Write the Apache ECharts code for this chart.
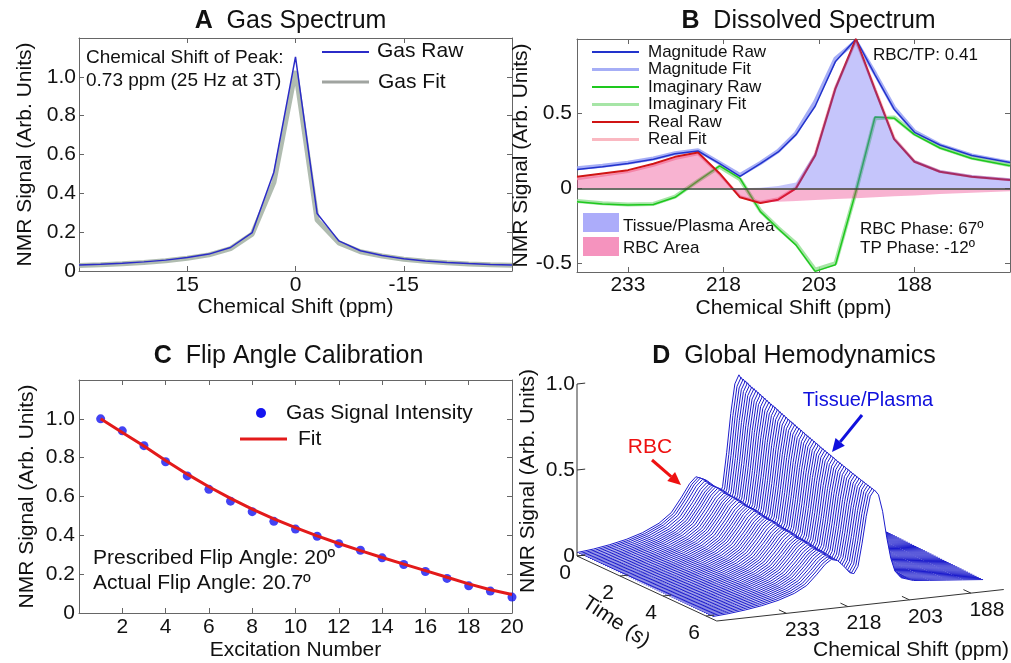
<!DOCTYPE html>
<html>
<head>
<meta charset="utf-8">
<script src="https://cdn.jsdelivr.net/npm/echarts@6.0.0/dist/echarts.min.js"></script>
<style>
  html, body { margin: 0; padding: 0; background: #fff; }
  #main { width: 1011px; height: 663px; }
</style>
</head>
<body>
<div id="main"></div>
<script>
// ---- A: gas spectrum
const gasPpm = [30, 27, 24, 21, 18, 15, 12, 9, 6, 3, 0, -3, -6, -9, -12, -15, -18, -21, -24, -27, -30]
const gasRaw = [0.031, 0.035, 0.04, 0.047, 0.056, 0.07, 0.087, 0.121, 0.198, 0.509, 1.103, 0.296, 0.155, 0.104, 0.08, 0.063, 0.052, 0.044, 0.038, 0.034, 0.031]
const gasFit = [0.028, 0.032, 0.037, 0.044, 0.053, 0.066, 0.083, 0.115, 0.19, 0.455, 1.03, 0.262, 0.145, 0.099, 0.077, 0.061, 0.05, 0.042, 0.036, 0.032, 0.029]
const gasShiftTicks = [15, 0, -15]
const signalTicks = [0, 0.2, 0.4, 0.6, 0.8, 1.0]

// ---- B: dissolved spectrum
const dissPpm = [241, 237, 233, 229, 225.6, 222, 218.6, 215.4, 212.2, 209.4, 206.6, 203.6, 200.4, 197.2, 194.2, 191.2, 188, 184, 179, 173]
const magRaw = [0.127, 0.145, 0.167, 0.195, 0.232, 0.25, 0.165, 0.08, 0.165, 0.244, 0.36, 0.55, 0.85, 1.0, 0.76, 0.53, 0.375, 0.29, 0.22, 0.173]
const magFit = [0.135, 0.152, 0.172, 0.2, 0.235, 0.255, 0.17, 0.09, 0.17, 0.25, 0.37, 0.58, 0.87, 0.985, 0.77, 0.54, 0.38, 0.29, 0.22, 0.172]
const imagRaw = [-0.089, -0.105, -0.111, -0.108, -0.06, 0.05, 0.151, 0.067, -0.156, -0.27, -0.38, -0.556, -0.511, -0.02, 0.478, 0.47, 0.36, 0.27, 0.2, 0.151]
const imagFit = [-0.085, -0.1, -0.108, -0.104, -0.055, 0.05, 0.145, 0.06, -0.15, -0.265, -0.37, -0.545, -0.5, -0.02, 0.47, 0.475, 0.365, 0.275, 0.205, 0.155]
const realRaw = [0.078, 0.1, 0.122, 0.165, 0.211, 0.24, 0.1, -0.06, -0.098, -0.076, 0.0, 0.22, 0.67, 1.0, 0.66, 0.33, 0.178, 0.111, 0.078, 0.056]
const realFit = [0.065, 0.088, 0.112, 0.155, 0.2, 0.232, 0.095, -0.055, -0.093, -0.07, 0.005, 0.225, 0.675, 0.99, 0.665, 0.335, 0.18, 0.113, 0.08, 0.058]
const tpArea = [0, 0, 0, 0, 0, 0, 0, 0, 0.004, 0.015, 0.04, 0.24, 0.69, 1.0, 0.672, 0.342, 0.19, 0.123, 0.09, 0.068]
const rbcArea = [0.07, 0.09, 0.115, 0.158, 0.205, 0.235, 0.095, -0.055, -0.095, -0.09, -0.085, -0.078, -0.072, -0.066, -0.06, -0.053, -0.047, -0.038, -0.03, -0.02]
const dissShiftTicks = [233, 218, 203, 188]
const dissSignalTicks = [-0.5, 0, 0.5]

// ---- C: flip angle calibration
const excitation = [1, 2, 3, 4, 5, 6, 7, 8, 9, 10, 11, 12, 13, 14, 15, 16, 17, 18, 19, 20]
const gasSignal = [1.0, 0.938, 0.862, 0.779, 0.706, 0.637, 0.576, 0.522, 0.472, 0.432, 0.395, 0.357, 0.323, 0.284, 0.25, 0.214, 0.178, 0.14, 0.113, 0.082]
const flipFit = [1.0, 0.93, 0.86, 0.785, 0.715, 0.65, 0.59, 0.535, 0.485, 0.44, 0.397, 0.358, 0.321, 0.286, 0.252, 0.218, 0.184, 0.15, 0.12, 0.095]
const excitationTicks = [2, 4, 6, 8, 10, 12, 14, 16, 18, 20]

// ---- D: global hemodynamics (spectra over time)
const dPpm = [250, 246, 242, 238, 234, 230, 227, 224.5, 222.5, 221, 219.5, 218, 216.5, 215.5, 214.5, 213.5, 212.5, 211.5, 210.5, 209.5, 208.5, 207.5, 206.5, 205.5, 204, 201, 197, 193, 189, 184]
const rbcProfile = [0.02, 0.03, 0.045, 0.065, 0.09, 0.13, 0.18, 0.26, 0.33, 0.36, 0.34, 0.28, 0.2, 0.15, 0.11, 0.085, 0.07, 0.06, 0.05, 0.045, 0.04, 0.035, 0.03, 0.028, 0.025, 0.02, 0.016, 0.013, 0.01, 0.008]
const tpProfile = [0, 0, 0, 0, 0.004, 0.008, 0.012, 0.016, 0.02, 0.025, 0.03, 0.04, 0.06, 0.1, 0.2, 0.42, 0.66, 0.84, 0.9, 0.86, 0.72, 0.5, 0.32, 0.21, 0.15, 0.12, 0.11, 0.1, 0.09, 0.075]
const dTime = [0, 0.1, 0.2, 0.3, 0.4, 0.5, 0.6, 0.7, 0.8, 0.9,
  1.0, 1.1, 1.2, 1.3, 1.4, 1.5, 1.6, 1.7, 1.8, 1.9,
  2.0, 2.1, 2.2, 2.3, 2.4, 2.5, 2.6, 2.7, 2.8, 2.9,
  3.0, 3.1, 3.2, 3.3, 3.4, 3.5, 3.6, 3.7, 3.8, 3.9,
  4.0, 4.1, 4.2, 4.3, 4.4, 4.5, 4.6, 4.7, 4.8, 4.9,
  5.0, 5.1, 5.2, 5.3, 5.4, 5.5, 5.6, 5.7, 5.8, 5.9,
  6.0, 6.1, 6.2, 6.3]
const tpAmp = [1.0, 0.99, 0.985, 0.98, 0.975, 0.968, 0.962, 0.958, 0.952, 0.946,
  0.94, 0.935, 0.93, 0.924, 0.918, 0.912, 0.907, 0.902, 0.896, 0.89,
  0.885, 0.88, 0.874, 0.868, 0.863, 0.858, 0.852, 0.846, 0.842, 0.837,
  0.832, 0.826, 0.821, 0.816, 0.811, 0.806, 0.801, 0.796, 0.79, 0.786,
  0.781, 0.776, 0.771, 0.766, 0.762, 0.757, 0.752, 0.748, 0.743, 0.739,
  0.734, 0.73, 0.725, 0.721, 0.717, 0.712, 0.708, 0.704, 0.7, 0.696,
  0.692, 0.688, 0.684, 0.68]
const rbcAmp = [1.0, 1.005, 1.01, 1.005, 0.995, 0.985, 0.978, 0.975, 0.977, 0.978,
  0.975, 0.968, 0.958, 0.95, 0.945, 0.944, 0.945, 0.944, 0.94, 0.932,
  0.922, 0.914, 0.908, 0.905, 0.905, 0.904, 0.9, 0.893, 0.884, 0.875,
  0.868, 0.864, 0.862, 0.861, 0.858, 0.852, 0.843, 0.834, 0.827, 0.822,
  0.82, 0.818, 0.815, 0.809, 0.8, 0.792, 0.785, 0.781, 0.779, 0.777,
  0.773, 0.766, 0.758, 0.75, 0.744, 0.741, 0.739, 0.736, 0.731, 0.724,
  0.717, 0.711, 0.707, 0.704]
const dSignalTicks = [0, 0.5, 1.0]
const dTimeTicks = [0, 2, 4, 6]
const dShiftTicks = [233, 218, 203, 188]
const D_PPM_MAX = 250
const D_PPM_MIN = 180
const D_T_MAX = 6.5

const FONT = '"Liberation Sans", Arial, sans-serif'
const INK = '#111'
const FRAME = '#666'

// oblique view used for panel D (ppm, time, signal -> grid units)
const view = { ox: 577, oy: 556, ux: 4.1, uy: -0.45, tx: 21.5, ty: 10, zs: 172 }
function proj(ppm, t, z) {
  const d = D_PPM_MAX - ppm
  return [view.ox + d * view.ux + t * view.tx, view.oy + d * view.uy + t * view.ty - z * view.zs]
}

function zip(xs, ys) {
  return xs.map((x, i) => [x, ys[i]])
}

function axis(gridIndex, pos, min, max, inverse, ticks, o) {
  o = o || {}
  const main = pos === 'bottom' || pos === 'left'
  return {
    gridIndex: gridIndex, type: 'value', position: pos, min: min, max: max, inverse: !!inverse,
    splitLine: { show: false },
    axisLine: { show: true, onZero: false, lineStyle: { color: FRAME, width: 1 } },
    axisTick: { show: true, inside: true, length: 5, customValues: ticks, lineStyle: { color: FRAME } },
    axisLabel: { show: main, customValues: ticks, margin: o.margin || 4, formatter: o.fmt, color: INK, fontSize: 21, fontFamily: FONT },
    name: main ? o.name : '', nameLocation: 'middle', nameGap: o.gap,
    nameTextStyle: { color: INK, fontSize: 21, fontFamily: FONT }
  }
}

const fmt1 = v => (v === 0 ? '0' : v.toFixed(1))
const fmtB = v => (v === 0 ? '0' : String(v))

function line(xi, data, color, width, z, extra) {
  return Object.assign({
    type: 'line', xAxisIndex: xi, yAxisIndex: xi, data: data, showSymbol: false, symbol: 'none',
    silent: true, animation: false, z: z,
    lineStyle: { color: color, width: width }
  }, extra || {})
}

function renderTrace(params, api) {
  const i = api.value(0)
  const t = dTime[i]
  const curve = dPpm.map((p, j) => api.coord(proj(p, t, rbcAmp[i] * rbcProfile[j] + tpAmp[i] * tpProfile[j])))
  const b0 = api.coord(proj(dPpm[0], t, 0))
  const b1 = api.coord(proj(dPpm[dPpm.length - 1], t, 0))
  return {
    type: 'group',
    children: [
      { type: 'polygon', shape: { points: curve.concat([b1, b0]) }, style: { fill: '#fff' } },
      { type: 'polyline', shape: { points: curve }, style: { fill: null, stroke: '#1c1ccc', lineWidth: 1 } }
    ]
  }
}

function renderDAxes(params, api) {
  const pt = (p, t, z) => api.coord(proj(p, t, z))
  const els = []
  const seg = (a, b) => els.push({ type: 'line', shape: { x1: a[0], y1: a[1], x2: b[0], y2: b[1] }, style: { stroke: '#333', lineWidth: 1 } })
  const lab = (x, y, s, align) => els.push({
    type: 'text', x: x, y: y,
    style: { text: s, fill: INK, font: '21px ' + FONT, align: align, verticalAlign: 'middle', textAlign: align, textVerticalAlign: 'middle' }
  })
  seg(pt(D_PPM_MAX, 0, 0), pt(D_PPM_MAX, 0, 1))
  dSignalTicks.forEach(v => {
    const p = pt(D_PPM_MAX, 0, v)
    seg(p, pt(D_PPM_MAX - 2, 0, v))
    lab(p[0] - 2, p[1], fmt1(v), 'right')
  })
  seg(pt(D_PPM_MAX, 0, 0), pt(D_PPM_MAX, D_T_MAX, 0))
  dTimeTicks.forEach(v => {
    const p = pt(D_PPM_MAX, v, 0)
    seg(p, pt(D_PPM_MAX - 2, v, 0))
    lab(p[0] - 12, p[1] + 17, String(v), 'center')
  })
  seg(pt(D_PPM_MAX, D_T_MAX, 0), pt(D_PPM_MIN, D_T_MAX, 0))
  dShiftTicks.forEach(v => {
    const p = pt(v, D_T_MAX, 0)
    seg(p, pt(v, D_T_MAX - 0.35, 0))
    lab(p[0] + 16, p[1] + 17, String(v), 'center')
  })
  return { type: 'group', children: els }
}

function txt(x, y, s, size, extra) {
  return {
    type: 'text', x: x, y: y, silent: true,
    style: Object.assign({
      text: s, fill: INK, font: size + 'px ' + FONT,
      align: 'left', verticalAlign: 'middle', textAlign: 'left', textVerticalAlign: 'middle'
    }, extra || {})
  }
}
function title(x, y, s) {
  return txt(x, y, s, 25, {
    align: 'center', textAlign: 'center',
    rich: { b: { font: 'bold 25px ' + FONT, fill: INK } }
  })
}
function sample(x1, x2, y, color, width) {
  return { type: 'line', silent: true, shape: { x1: x1, y1: y, x2: x2, y2: y }, style: { stroke: color, lineWidth: width } }
}
function arrow(x1, y1, x2, y2, color) {
  const a = Math.atan2(y2 - y1, x2 - x1)
  const bx = x2 - 13 * Math.cos(a)
  const by = y2 - 13 * Math.sin(a)
  const nx = -Math.sin(a) * 6
  const ny = Math.cos(a) * 6
  return [
    { type: 'line', silent: true, shape: { x1: x1, y1: y1, x2: bx, y2: by }, style: { stroke: color, lineWidth: 3 } },
    { type: 'polygon', silent: true, shape: { points: [[x2, y2], [bx + nx, by + ny], [bx - nx, by - ny]] }, style: { fill: color } }
  ]
}

const TP_FILL = 'rgba(90,90,245,0.5)'
const RBC_FILL = 'rgba(236,40,125,0.5)'

const chart = echarts.init(document.getElementById('main'), null, { renderer: 'canvas' })

const option = {
  animation: false,
  backgroundColor: '#fff',
  grid: [
    { left: 79, top: 38, width: 433, height: 233, outerBoundsMode: 'none' },
    { left: 577, top: 39, width: 433, height: 233, outerBoundsMode: 'none' },
    { left: 79, top: 380, width: 433, height: 233, outerBoundsMode: 'none' },
    { left: 0, top: 0, width: 1011, height: 663, outerBoundsMode: 'none' }
  ],
  xAxis: [
    axis(0, 'bottom', -30, 30, true, gasShiftTicks, { name: 'Chemical Shift (ppm)', gap: 24 }),
    axis(0, 'top', -30, 30, true, gasShiftTicks),
    axis(1, 'bottom', 173, 241, true, dissShiftTicks, { name: 'Chemical Shift (ppm)', gap: 26, margin: 3 }),
    axis(1, 'top', 173, 241, true, dissShiftTicks),
    axis(2, 'bottom', 0, 20, false, excitationTicks, { name: 'Excitation Number', gap: 27 }),
    axis(2, 'top', 0, 20, false, excitationTicks),
    { gridIndex: 3, type: 'value', min: 0, max: 1011, show: false }
  ],
  yAxis: [
    axis(0, 'left', 0, 1.2, false, signalTicks, { name: 'NMR Signal (Arb. Units)', gap: 43, fmt: fmt1, margin: 3 }),
    axis(0, 'right', 0, 1.2, false, signalTicks),
    axis(1, 'left', -0.56, 1.0, false, dissSignalTicks, { name: 'NMR Signal (Arb. Units)', gap: 38, fmt: fmtB, margin: 5 }),
    axis(1, 'right', -0.56, 1.0, false, dissSignalTicks),
    axis(2, 'left', 0, 1.2, false, signalTicks, { name: 'NMR Signal (Arb. Units)', gap: 41, fmt: fmt1, margin: 4 }),
    axis(2, 'right', 0, 1.2, false, signalTicks),
    { gridIndex: 3, type: 'value', min: 0, max: 663, inverse: true, show: false }
  ],
  series: [
    // A
    line(0, zip(gasPpm, gasFit), 'rgba(150,165,150,0.75)', 5, 2),
    line(0, zip(gasPpm, gasRaw), '#2b2bc8', 1.5, 3),
    // B lines
    line(2, zip(dissPpm, magFit), 'rgba(150,160,245,0.85)', 4, 2),
    line(2, zip(dissPpm, imagFit), 'rgba(150,225,150,0.85)', 4, 2),
    line(2, zip(dissPpm, realFit), 'rgba(250,180,190,0.95)', 3, 2),
    line(2, zip(dissPpm, magRaw), '#2233cc', 1.5, 3),
    line(2, zip(dissPpm, imagRaw), '#1ec81e', 1.5, 3),
    line(2, zip(dissPpm, realRaw), '#d01414', 2, 3),
    // B areas (drawn over the lines, translucent)
    line(2, zip(dissPpm, tpArea), TP_FILL, 0, 4, { areaStyle: { color: TP_FILL, origin: 0 }, lineStyle: { width: 0, opacity: 0 } }),
    line(2, zip(dissPpm, rbcArea), RBC_FILL, 0, 4, {
      areaStyle: { color: RBC_FILL, origin: 0 }, lineStyle: { width: 0, opacity: 0 },
      markLine: { silent: true, symbol: 'none', label: { show: false }, data: [{ yAxis: 0 }], lineStyle: { color: '#3a463a', width: 1.5, type: 'solid' } }
    }),
    // C
    {
      type: 'scatter', xAxisIndex: 4, yAxisIndex: 4, data: zip(excitation, gasSignal), symbolSize: 9,
      itemStyle: { color: '#1414f0' }, silent: true, animation: false, z: 2
    },
    line(4, zip(excitation, flipFit), '#e31a1a', 3, 3),
    // D
    {
      type: 'custom', xAxisIndex: 6, yAxisIndex: 6, data: dTime.map((t, i) => [i, 0]),
      renderItem: renderTrace, silent: true, animation: false, z: 2
    },
    {
      type: 'custom', xAxisIndex: 6, yAxisIndex: 6, data: [[0, 0]],
      renderItem: renderDAxes, silent: true, animation: false, z: 3
    }
  ],
  graphic: {
    elements: [
      title(290.5, 21, '{b|A}  Gas Spectrum'),
      title(808.5, 21, '{b|B}  Dissolved Spectrum'),
      title(288.5, 356, '{b|C}  Flip Angle Calibration'),
      title(794, 356, '{b|D}  Global Hemodynamics'),
      // A legend + note
      sample(322, 369, 52, '#2b2bc8', 2),
      txt(377, 51, 'Gas Raw', 21),
      sample(322, 369, 82, '#a0a4a0', 3),
      txt(378, 82, 'Gas Fit', 21),
      txt(86, 58, 'Chemical Shift of Peak:', 19),
      txt(86, 81, '0.73 ppm (25 Hz at 3T)', 19),
      // B legend
      sample(592, 639, 52, '#2233cc', 2),
      txt(648, 52, 'Magnitude Raw', 17),
      sample(592, 639, 69.5, 'rgba(150,160,245,0.85)', 3),
      txt(648, 69.5, 'Magnitude Fit', 17),
      sample(592, 639, 87, '#1ec81e', 2),
      txt(648, 87, 'Imaginary Raw', 17),
      sample(592, 639, 104.5, 'rgba(150,225,150,0.85)', 3),
      txt(648, 104.5, 'Imaginary Fit', 17),
      sample(592, 639, 122, '#d01414', 2),
      txt(648, 122, 'Real Raw', 17),
      sample(592, 639, 139.5, 'rgba(250,180,190,0.95)', 3),
      txt(648, 139.5, 'Real Fit', 17),
      { type: 'rect', silent: true, shape: { x: 583, y: 213, width: 36, height: 19 }, style: { fill: TP_FILL } },
      txt(623, 226, 'Tissue/Plasma Area', 17),
      { type: 'rect', silent: true, shape: { x: 583, y: 237, width: 36, height: 19 }, style: { fill: RBC_FILL } },
      txt(623, 248, 'RBC Area', 17),
      txt(873, 55, 'RBC/TP: 0.41', 17),
      txt(860, 229, 'RBC Phase: 67º', 17),
      txt(860, 248, 'TP Phase: -12º', 17),
      // C legend + note
      { type: 'circle', silent: true, shape: { cx: 261, cy: 413, r: 5 }, style: { fill: '#1414f0' } },
      txt(286, 413, 'Gas Signal Intensity', 21),
      sample(240, 287, 439, '#e31a1a', 3),
      txt(298, 439, 'Fit', 21),
      txt(93, 558, 'Prescribed Flip Angle: 20º', 21),
      txt(93, 583, 'Actual Flip Angle: 20.7º', 21),
      // D labels
      txt(528, 481, 'NMR Signal (Arb. Units)', 21, { align: 'center', textAlign: 'center' }),
      txt(616, 622, 'Time (s)', 21, { align: 'center', textAlign: 'center' }),
      txt(911, 650, 'Chemical Shift (ppm)', 21, { align: 'center', textAlign: 'center' }),
      txt(650, 447, 'RBC', 21, { align: 'center', textAlign: 'center', fill: '#ee1111' }),
      txt(868, 400, 'Tissue/Plasma', 20, { align: 'center', textAlign: 'center', fill: '#1010dd' })
    ].concat(arrow(652, 460, 681, 485, '#ee1111'), arrow(862, 415, 832, 452, '#1010dd'))
  }
}

// rotate the free-standing D axis names
option.graphic.elements.forEach(el => {
  if (el.style && el.style.text === 'NMR Signal (Arb. Units)') el.rotation = Math.PI / 2
  if (el.style && el.style.text === 'Time (s)') el.rotation = -0.58
})

chart.setOption(option)
</script>
</body>
</html>
